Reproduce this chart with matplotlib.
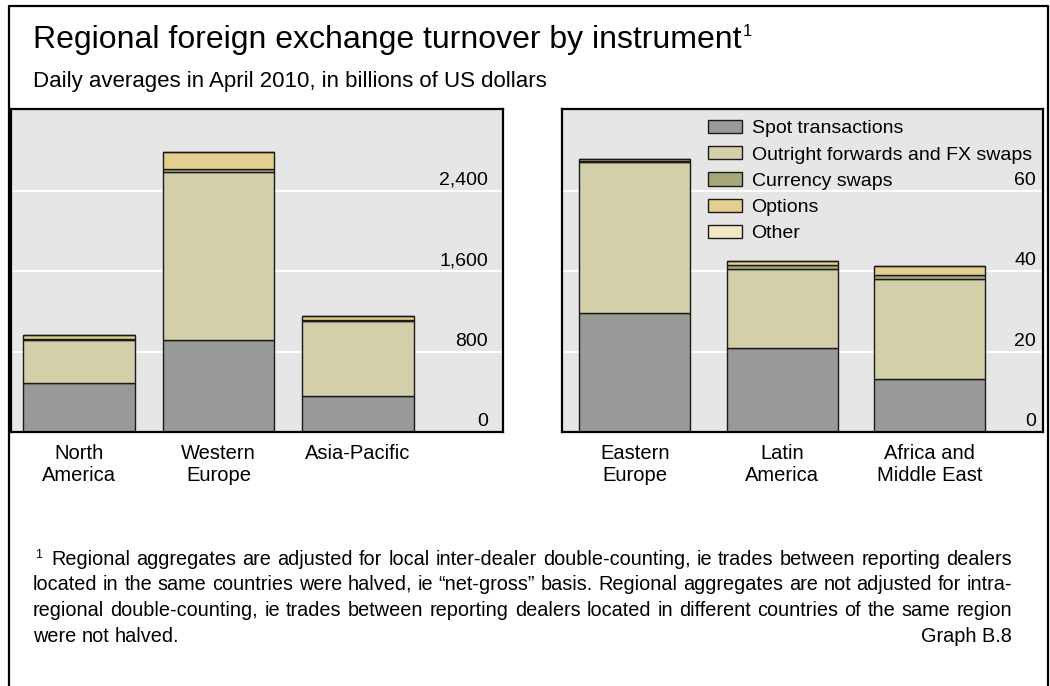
import matplotlib
matplotlib.use("Agg")
import matplotlib.pyplot as plt
from matplotlib.lines import Line2D
import matplotlib.transforms as mtransforms

plt.rcParams['font.family'] = ['Liberation Sans', 'DejaVu Sans']

# data, billions of US dollars
big_regions = ["North\nAmerica", "Western\nEurope", "Asia-Pacific"]
big_spot = [488, 920, 359]
big_fwd = [425, 1668, 744]
big_cswap = [10, 33, 15]
big_opt = [38, 164, 36]
big_other = [5, 3, 5]

small_regions = ["Eastern\nEurope", "Latin\nAmerica", "Africa and\nMiddle East"]
small_spot = [29.5, 21.0, 13.3]
small_fwd = [37.6, 19.6, 24.7]
small_cswap = [0.3, 0.8, 1.1]
small_opt = [0.4, 1.0, 2.1]
small_other = [0.1, 0.1, 0.1]

instruments = ["Spot transactions", "Outright forwards and FX swaps",
               "Currency swaps", "Options", "Other"]
colors = ["#989a97", "#d3cfa8", "#a7a77c", "#e3cf8f", "#f3e9c7"]

big_ticks = [0, 800, 1600, 2400]
small_ticks = [0, 20, 40, 60]

W, H = 1050, 686
fig = plt.figure(figsize=(W / 100, H / 100), dpi=100)


def box(px_l, px_t, px_r, px_b):
    return [px_l / W, 1 - px_b / H, (px_r - px_l) / W, (px_b - px_t) / H]


def draw_panel(ax, regions, series, ticks, width, xlim, ylim, lab_x):
    x = list(range(len(regions)))
    bottom = [0] * len(regions)
    for vals, c, name in zip(series, colors, instruments):
        ax.bar(x, vals, width, bottom=bottom, color=c, edgecolor="#1a1a1a",
               linewidth=1.0, label=name, zorder=2)
        bottom = [b + v for b, v in zip(bottom, vals)]
    ax.set_xlim(*xlim)
    ax.set_ylim(*ylim)
    ax.set_facecolor("#e6e6e6")
    ax.set_yticks(ticks)
    ax.set_yticklabels([])
    ax.tick_params(axis="y", length=0)
    ax.grid(axis="y", color="white", linewidth=1.5, zorder=0)
    ax.set_axisbelow(True)
    ax.set_xticks(x)
    ax.set_xticklabels(regions, fontsize=14.5, linespacing=1.2)
    ax.tick_params(axis="x", length=0, pad=8.5)
    for sp in ax.spines.values():
        sp.set_linewidth(1.6)
    trans = mtransforms.blended_transform_factory(ax.transAxes, ax.transData)
    trans = trans + mtransforms.ScaledTranslation(0, 6 / 100, fig.dpi_scale_trans)
    for t in ticks:
        ax.text(lab_x, t, f"{t:,}", transform=trans, ha="right",
                va="baseline", fontsize=14)


ax1 = fig.add_axes(box(11, 109, 503, 432))
draw_panel(ax1, big_regions,
           [big_spot, big_fwd, big_cswap, big_opt, big_other],
           big_ticks, 0.80, (-0.487, 3.04), (0, 3215), (488 - 11) / 492)

ax2 = fig.add_axes(box(562, 109, 1043, 432))
draw_panel(ax2, small_regions,
           [small_spot, small_fwd, small_cswap, small_opt, small_other],
           small_ticks, 0.753, (-0.494, 2.768), (0, 80.3), (1036 - 562) / 481)

leg = ax2.legend(loc="upper left", bbox_to_anchor=((700 - 562) / 481, 0.99),
                 frameon=False, fontsize=14, handlelength=1.75,
                 handleheight=0.67, labelspacing=0.45, handletextpad=0.5,
                 borderaxespad=0)

# outer frame
fig.add_artist(Line2D([9 / W, 9 / W, 1048 / W, 1048 / W],
                      [0, 1 - 6 / H, 1 - 6 / H, 0], color="black", lw=1.6))

# titles
fig.text(33 / W, 1 - 48 / H, "Regional foreign exchange turnover by instrument",
         fontsize=23, va="baseline")
fig.text(743 / W, 1 - 36 / H, "1", fontsize=12, va="baseline")
fig.text(33 / W, 1 - 87 / H, "Daily averages in April 2010, in billions of US dollars",
         fontsize=16, va="baseline")

# footnote, justified between x0 and x1
foot_lines = [
    "Regional aggregates are adjusted for local inter-dealer double-counting, ie trades between reporting dealers",
    "located in the same countries were halved, ie \u201cnet-gross\u201d basis. Regional aggregates are not adjusted for intra-",
    "regional double-counting, ie trades between reporting dealers located in different countries of the same region",
    "were not halved.",
]
foot_starts = [51, 33, 33, 33]
foot_base = [565, 590, 616, 642]
x1 = 1012
fs = 14.3
fig.text(35 / W, 1 - 558 / H, "1", fontsize=9, va="baseline")
renderer = fig.canvas.get_renderer()
for i, (line, xs, yb) in enumerate(zip(foot_lines, foot_starts, foot_base)):
    words = line.split(" ")
    texts = [fig.text(0, 1 - yb / H, w, fontsize=fs, va="baseline") for w in words]
    widths = [t.get_window_extent(renderer).width for t in texts]
    if i < len(foot_lines) - 1:
        gap = (x1 - xs - sum(widths)) / (len(words) - 1)
    else:
        sp = fig.text(0, 0, "a a", fontsize=fs)
        sp2 = fig.text(0, 0, "aa", fontsize=fs)
        gap = sp.get_window_extent(renderer).width - sp2.get_window_extent(renderer).width
        sp.remove()
        sp2.remove()
    x = xs
    for t, w in zip(texts, widths):
        t.set_x(x / W)
        x += w + gap

fig.text(x1 / W, 1 - 642 / H, "Graph B.8", fontsize=fs, va="baseline", ha="right")

fig.savefig("out.png", dpi=100)
